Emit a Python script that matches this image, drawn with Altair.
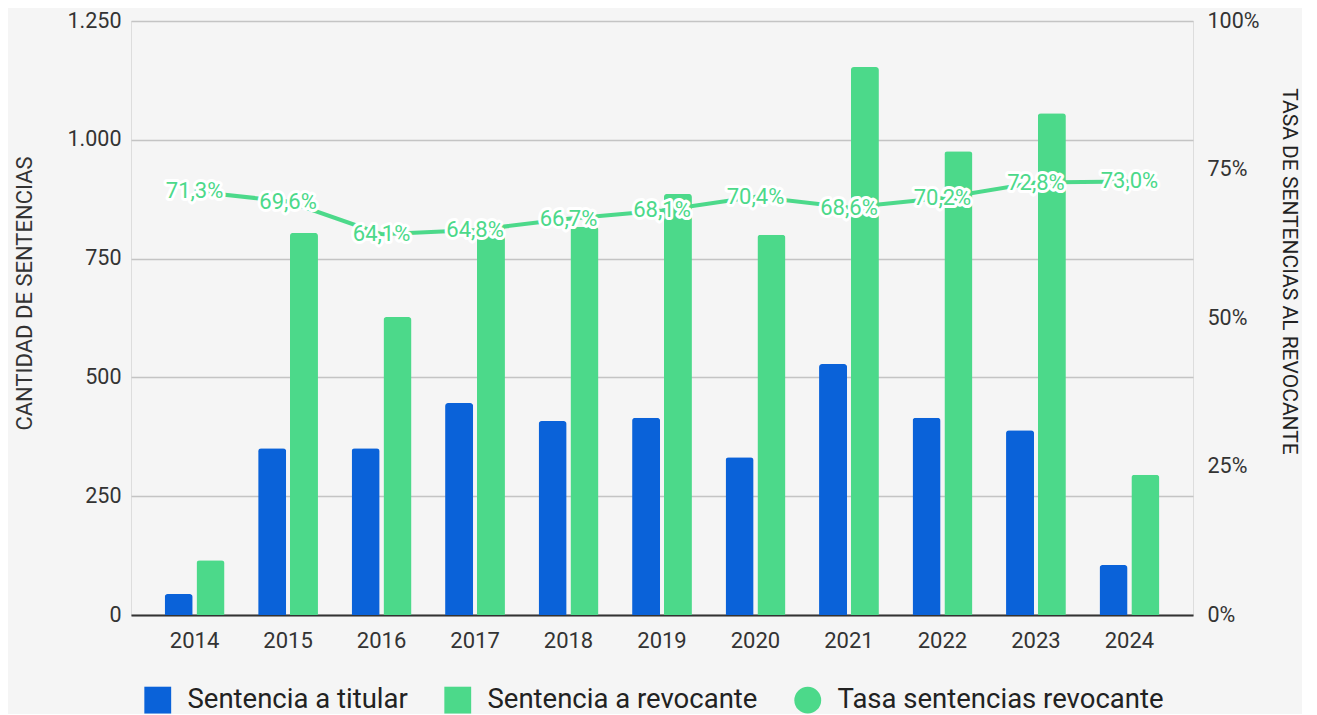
import altair as alt
import pandas as pd

years = ["2014", "2015", "2016", "2017", "2018", "2019", "2020", "2021", "2022", "2023", "2024"]
titular = [44, 351, 351, 446, 408, 415, 332, 528, 415, 389, 105]
revocante = [115, 804, 627, 821, 817, 886, 800, 1153, 976, 1056, 295]
tasa = [71.3, 69.6, 64.1, 64.8, 66.7, 68.1, 70.4, 68.6, 70.2, 72.8, 73.0]
series = ["Sentencia a titular", "Sentencia a revocante", "Tasa sentencias revocante"]
colors = ["#0a62d9", "#4cd98a", "#4cd98a"]
shapes = ["square", "square", "circle"]
left_ticks = [0, 250, 500, 750, 1000, 1250]
right_ticks = [0, 0.25, 0.5, 0.75, 1.0]

bars_df = pd.DataFrame({
    "anio": years * 2,
    "serie": [series[0]] * len(years) + [series[1]] * len(years),
    "valor": titular + revocante,
})
rate_df = pd.DataFrame({
    "anio": years,
    "serie": [series[2]] * len(years),
    "tasa": [t / 100 for t in tasa],
    "label": [f"{t:.1f}%".replace(".", ",") for t in tasa],
})

FONT = "Roboto"
xscale = alt.Scale(domain=years, paddingInner=0.36, paddingOuter=0.36)
color_scale = alt.Scale(domain=series, range=colors)
rate_scale = alt.Scale(domain=[0, 1])

x_axis = alt.Axis(title=None, labelAngle=0, labelFontSize=22, labelColor="#333",
                  labelFont=FONT, ticks=False, domainColor="#333", domainWidth=2,
                  labelPadding=15, grid=False)

right_axis = alt.Axis(title="TASA DE SENTENCIAS AL REVOCANTE", orient="right",
                      values=right_ticks, format=".0%", labelFontSize=21.5,
                      labelColor="#333", labelFont=FONT, titleFontSize=21,
                      titleFont=FONT, titleFontWeight="normal", titleColor="#222",
                      titlePadding=20, titleY=250, ticks=False, domain=False, grid=False,
                      labelPadding=14)

legend = alt.Legend(
    orient="none", legendX=13, legendY=665, direction="horizontal", title=None,
    labelFontSize=27.5, labelFont=FONT, labelColor="#222", labelLimit=0,
    symbolSize=720, symbolStrokeWidth=0, symbolOpacity=1,
    labelOffset=16, columnPadding=36,
)

bars = alt.Chart(bars_df).mark_bar(cornerRadiusTopLeft=3, cornerRadiusTopRight=3).encode(
    x=alt.X("anio:N", scale=xscale, sort=years, axis=x_axis),
    xOffset=alt.XOffset("serie:N", sort=series[:2], scale=alt.Scale(paddingInner=0.12)),
    y=alt.Y("valor:Q", scale=alt.Scale(domain=[0, 1250]),
            axis=alt.Axis(title="CANTIDAD DE SENTENCIAS", values=left_ticks,
                          labelExpr="replace(format(datum.value, ','), ',', '.')",
                          labelFontSize=21.5, labelColor="#333", labelFont=FONT,
                          titleFontSize=22, titleFont=FONT, titleFontWeight="normal",
                          titleColor="#333", titlePadding=30, titleY=272, ticks=False,
                          domain=False, grid=True, gridColor="#c4c4c4", gridWidth=1.5,
                          labelPadding=10)),
    color=alt.Color("serie:N", scale=color_scale, legend=legend),
)

line = alt.Chart(rate_df).mark_line(strokeWidth=4, color="#4cd98a").encode(
    x=alt.X("anio:N", sort=years),
    y=alt.Y("tasa:Q", scale=rate_scale, axis=right_axis),
)

pts = alt.Chart(rate_df).mark_point(filled=True, size=0, opacity=0).encode(
    x=alt.X("anio:N", sort=years),
    y=alt.Y("tasa:Q", scale=rate_scale, axis=right_axis),
    color=alt.Color("serie:N", scale=color_scale, legend=legend),
    shape=alt.Shape("serie:N", scale=alt.Scale(domain=series, range=shapes), legend=legend),
)

halo = alt.Chart(rate_df).mark_text(fontSize=22, font=FONT, stroke="white", strokeWidth=6,
                                    strokeJoin="round", fill="white", baseline="middle").encode(
    x=alt.X("anio:N", sort=years),
    y=alt.Y("tasa:Q", scale=rate_scale, axis=right_axis),
    text="label:N",
)
labels = alt.Chart(rate_df).mark_text(fontSize=22, font=FONT, color="#4cd98a", baseline="middle").encode(
    x=alt.X("anio:N", sort=years),
    y=alt.Y("tasa:Q", scale=rate_scale, axis=right_axis),
    text="label:N",
)

rate_layer = alt.layer(line, pts, halo, labels)

chart = alt.layer(bars, rate_layer).resolve_scale(y="independent").properties(
    width=1062, height=594, background="#f5f5f5",
    padding={"left": 5, "top": 2, "right": 2, "bottom": 0},
).configure_view(stroke=None).configure(font=FONT)

chart.save("out.html", embed_options={"renderer": "svg", "actions": False})
